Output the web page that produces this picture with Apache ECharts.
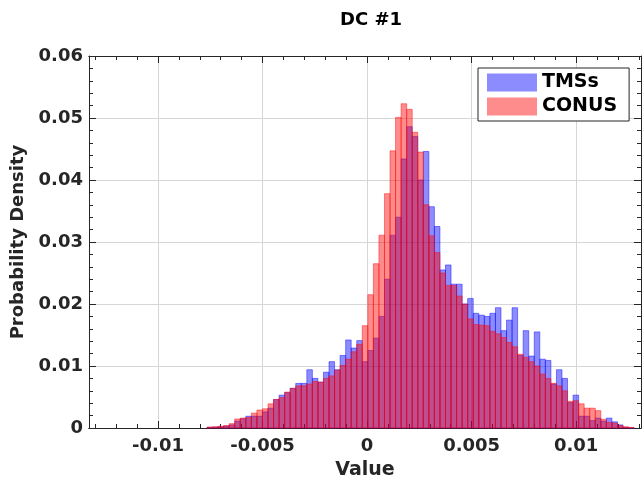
<!DOCTYPE html>
<html>
<head>
<meta charset="utf-8">
<script src="https://cdn.jsdelivr.net/npm/echarts@6/dist/echarts.min.js"></script>
<style>
  html, body { margin: 0; padding: 0; background: #fff; }
  #chart { width: 644px; height: 485px; }
</style>
</head>
<body>
<div id="chart"></div>
<script>
// histogram bins: left edge of first bin and common bin width
const binStart = -0.007658
const binWidth = 0.0002653

// probability density per bin
const tmss = [
  0.0001, 0.00015, 0.0002, 0.0003, 0.0005, 0.0011, 0.0015, 0.0019, 0.0019, 0.0019,
  0.0026, 0.0032, 0.0046, 0.0053, 0.0057, 0.0064, 0.0072, 0.0072, 0.0094, 0.0080,
  0.0074, 0.0090, 0.0107, 0.0094, 0.0117, 0.0142, 0.0129, 0.0141, 0.0107, 0.0125,
  0.0145, 0.018, 0.024, 0.0311, 0.034, 0.0434, 0.0486, 0.047, 0.040, 0.0446,
  0.0357, 0.0325, 0.0255, 0.0263, 0.0232, 0.0232, 0.0200, 0.0209, 0.0185, 0.0182,
  0.0180, 0.0185, 0.0194, 0.0157, 0.0174, 0.0194, 0.0117, 0.0157, 0.0116, 0.0155,
  0.0111, 0.0109, 0.0071, 0.0094, 0.0080, 0.0041, 0.0053, 0.0019, 0.0019, 0.0012,
  0.0016, 0.0011, 0.0016, 0.0010, 0.0005, 0.0001, 0
]
const conus = [
  0.00016, 0.0002, 0.00027, 0.0004, 0.0007, 0.00145, 0.0016, 0.0017, 0.0024, 0.0029,
  0.0031, 0.0039, 0.0046, 0.0049, 0.0058, 0.0064, 0.0068, 0.0068, 0.0071, 0.0075,
  0.0074, 0.0080, 0.0084, 0.0093, 0.0101, 0.0111, 0.0123, 0.0135, 0.0165, 0.0215,
  0.0265, 0.0311, 0.0378, 0.0447, 0.0501, 0.0523, 0.0514, 0.0477, 0.0445, 0.036,
  0.031, 0.0283, 0.0250, 0.0230, 0.0230, 0.0213, 0.0200, 0.0176, 0.0167, 0.0166,
  0.0165, 0.0156, 0.0152, 0.0146, 0.0138, 0.0131, 0.0119, 0.0114, 0.0107, 0.0100,
  0.0087, 0.0080, 0.0072, 0.0068, 0.0060, 0.0043, 0.0044, 0.0039, 0.0032, 0.0032,
  0.0028, 0.0014, 0.0009, 0.0008, 0.0004, 0.0002, 0.0001
]

const xTicks = [-0.01, -0.005, 0, 0.005, 0.01]
const xTickLabels = ['-0.01', '-0.005', '0', '0.005', '0.01']
const xMinorTicks = [-0.013, -0.012, -0.011, -0.009, -0.008, -0.007, -0.006, -0.004, -0.003, -0.002, -0.001,
  0.001, 0.002, 0.003, 0.004, 0.006, 0.007, 0.008, 0.009, 0.011, 0.012, 0.013]
const xMin = -0.0133
const xMax = 0.0131

const font = 'DejaVu Sans'
const ink = '#262626'

const toBins = vals => vals.map((v, i) => [binStart + i * binWidth, binStart + (i + 1) * binWidth, v])

const histItem = (fill, stroke) => (params, api) => {
  const top = api.coord([api.value(0), api.value(2)])
  const bottom = api.coord([api.value(1), 0])
  return {
    type: 'rect',
    shape: { x: top[0], y: top[1], width: bottom[0] - top[0], height: bottom[1] - top[1] },
    style: { fill, stroke, lineWidth: 1 }
  }
}

const xAxisBase = {
  type: 'value',
  min: xMin,
  max: xMax,
  axisLine: { show: true, onZero: false, lineStyle: { color: ink, width: 1 } },
  axisLabel: { show: false },
  splitLine: { show: false }
}

const yAxisBase = {
  type: 'value',
  min: 0,
  max: 0.06,
  interval: 0.01,
  axisLine: { show: true, onZero: false, lineStyle: { color: ink, width: 1 } },
  axisTick: { show: true, inside: true, length: 7, lineStyle: { color: ink } },
  minorTick: { show: true, splitNumber: 5, length: 4, lineStyle: { color: ink } }
}

const chart = echarts.init(document.getElementById('chart'), null, { renderer: 'canvas' })

chart.setOption({
  animation: false,
  textStyle: { fontFamily: font },
  title: {
    text: 'DC #1',
    left: 335,
    top: 6,
    textStyle: { fontFamily: font, fontWeight: 'bold', fontSize: 18, color: '#000' }
  },
  legend: {
    orient: 'vertical',
    left: 478,
    top: 68,
    padding: [5, 12, 5, 9],
    itemGap: 5,
    itemWidth: 50,
    itemHeight: 18,
    icon: 'rect',
    borderColor: ink,
    borderWidth: 1,
    backgroundColor: '#fff',
    textStyle: { fontFamily: font, fontWeight: 'bold', fontSize: 19, color: '#000', lineHeight: 19 },
    data: [
      { name: 'TMSs', itemStyle: { color: 'rgb(140,140,255)', borderWidth: 0 } },
      { name: 'CONUS', itemStyle: { color: 'rgb(255,140,140)', borderWidth: 0 } }
    ]
  },
  grid: { left: 89, right: 3, top: 56, bottom: 56, containLabel: false },
  xAxis: [
    {
      ...xAxisBase,
      position: 'bottom',
      name: 'Value',
      nameLocation: 'middle',
      nameGap: 33,
      nameTextStyle: { fontFamily: font, fontWeight: 'bold', fontSize: 19, color: ink },
      axisTick: { show: true, inside: true, length: 7, customValues: xTicks, lineStyle: { color: ink } },
      axisLabel: {
        show: true,
        customValues: xTicks,
        margin: 9,
        fontFamily: font,
        fontWeight: 'bold',
        fontSize: 18,
        color: ink,
        formatter: v => xTickLabels[xTicks.findIndex(t => Math.abs(t - v) < 1e-9)] || ''
      },
      splitLine: { show: true, lineStyle: { color: '#d6d6d6', width: 1 } }
    },
    {
      ...xAxisBase,
      position: 'bottom',
      axisTick: { show: true, inside: true, length: 4, customValues: xMinorTicks, lineStyle: { color: ink } }
    },
    {
      ...xAxisBase,
      position: 'top',
      axisTick: { show: true, inside: true, length: 7, customValues: xTicks, lineStyle: { color: ink } }
    },
    {
      ...xAxisBase,
      position: 'top',
      axisTick: { show: true, inside: true, length: 4, customValues: xMinorTicks, lineStyle: { color: ink } }
    }
  ],
  yAxis: [
    {
      ...yAxisBase,
      position: 'left',
      name: 'Probability Density',
      nameLocation: 'middle',
      nameGap: 62,
      nameRotate: 90,
      nameTextStyle: { fontFamily: font, fontWeight: 'bold', fontSize: 18, color: ink },
      axisLabel: { margin: 6, fontFamily: font, fontWeight: 'bold', fontSize: 18, color: ink },
      splitLine: { show: true, lineStyle: { color: '#d6d6d6', width: 1 } }
    },
    {
      ...yAxisBase,
      position: 'right',
      axisLabel: { show: false },
      splitLine: { show: false }
    }
  ],
  series: [
    {
      name: 'TMSs',
      type: 'custom',
      xAxisIndex: 0,
      yAxisIndex: 0,
      itemStyle: { color: 'rgb(140,140,255)' },
      encode: { x: [0, 1], y: 2 },
      renderItem: histItem('rgba(0,0,255,0.45)', 'rgba(0,0,255,0.45)'),
      data: toBins(tmss)
    },
    {
      name: 'CONUS',
      type: 'custom',
      xAxisIndex: 0,
      yAxisIndex: 0,
      itemStyle: { color: 'rgb(255,140,140)' },
      encode: { x: [0, 1], y: 2 },
      renderItem: histItem('rgba(255,0,0,0.45)', 'rgba(255,0,0,0.45)'),
      data: toBins(conus)
    }
  ]
})
</script>
</body>
</html>
